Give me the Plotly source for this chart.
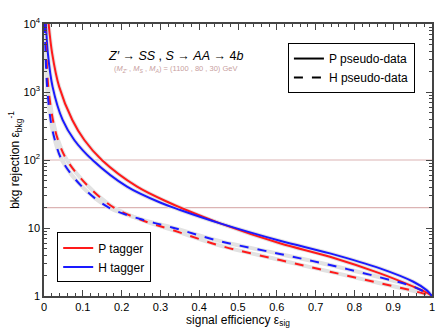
import plotly.graph_objects as go

# signal efficiency / background rejection
p_tag_eff = [0.012, 0.021, 0.039, 0.073, 0.104, 0.149, 0.240, 0.326, 0.351, 0.454, 0.608, 0.737, 0.866, 0.952, 0.986, 1.0]
p_tag_rej = [10000, 3700, 1200, 388, 197, 100, 40.5, 23.1, 20, 11.7, 5.96, 3.78, 2.15, 1.37, 1.12, 1.0]

h_tag_eff = [0.005, 0.010, 0.022, 0.048, 0.078, 0.125, 0.214, 0.304, 0.351, 0.454, 0.608, 0.737, 0.866, 0.952, 0.986, 1.0]
h_tag_rej = [10000, 3700, 1200, 388, 197, 100, 40.5, 23.1, 18.4, 11.7, 6.5, 4.24, 2.55, 1.62, 1.22, 1.0]

p_dash_eff = [0.003, 0.006, 0.011, 0.023, 0.036, 0.059, 0.115, 0.180, 0.253, 0.330, 0.454, 0.608, 0.737, 0.866, 0.952, 1.0]
p_dash_rej = [10000, 3700, 1200, 388, 197, 100, 40.5, 20, 13.0, 9.4, 5.5, 3.38, 2.28, 1.54, 1.19, 1.0]

h_dash_eff = [0.002, 0.004, 0.008, 0.017, 0.028, 0.046, 0.098, 0.167, 0.253, 0.330, 0.454, 0.608, 0.737, 0.866, 0.952, 1.0]
h_dash_rej = [10000, 3700, 1200, 388, 197, 100, 40.5, 20, 13.3, 10.2, 6.4, 4.15, 2.86, 1.88, 1.37, 1.0]

ref_levels = [100, 20]

RED = '#ff1a1a'
BLUE = '#1a1aff'
FONT = 'Liberation Sans, Arial, sans-serif'

curves = [
    (p_tag_eff, p_tag_rej, RED, 'solid'),
    (h_tag_eff, h_tag_rej, BLUE, 'solid'),
    (p_dash_eff, p_dash_rej, RED, 'dash'),
    (h_dash_eff, h_dash_rej, BLUE, 'dash'),
]

fig = go.Figure()

# grey uncertainty band under each curve
for xs, ys, col, dash in curves:
    fig.add_trace(go.Scatter(x=xs, y=ys, mode='lines',
                             line=dict(color='#e2e2e2', width=4, shape='spline', smoothing=1.0),
                             showlegend=False, hoverinfo='skip'))
for xs, ys, col, dash in curves:
    fig.add_trace(go.Scatter(x=xs, y=ys, mode='lines',
                             line=dict(color=col, width=2, dash=dash, shape='spline', smoothing=1.0),
                             showlegend=False))

# legend entries
fig.add_trace(go.Scatter(x=[None], y=[None], mode='lines', line=dict(color=RED, width=2), name='P tagger', legend='legend'))
fig.add_trace(go.Scatter(x=[None], y=[None], mode='lines', line=dict(color=BLUE, width=2), name='H tagger', legend='legend'))
fig.add_trace(go.Scatter(x=[None], y=[None], mode='lines', line=dict(color='black', width=2), name='P pseudo-data', legend='legend2'))
fig.add_trace(go.Scatter(x=[None], y=[None], mode='lines', line=dict(color='black', width=2, dash='dash'), name='H pseudo-data', legend='legend2'))

for lv in ref_levels:
    fig.add_hline(y=lv, line=dict(color='#dcb4b4', width=1.2), layer='below')

fig.add_annotation(x=0.338, y=0.915, xref='paper', yref='paper', showarrow=False, xanchor='center',
                   text='<i>Z′</i> → <i>SS</i> , <i>S</i> → <i>AA</i> → 4<i>b</i>',
                   font=dict(size=12.5, color='black', family=FONT))
fig.add_annotation(x=0.338, y=0.862, xref='paper', yref='paper', showarrow=False, xanchor='center',
                   text='(<i>M<sub>Z′</sub></i> , <i>M<sub>S</sub></i> , <i>M<sub>A</sub></i>) = (1100 , 80 , 30) GeV',
                   font=dict(size=7.5, color='#c8a0a0', family=FONT))

fig.update_layout(
    width=436, height=329,
    margin=dict(l=44, r=4, t=24, b=33),
    plot_bgcolor='white', paper_bgcolor='white',
    font=dict(family=FONT, size=12, color='black'),
    legend=dict(x=0.034, y=0.05, xanchor='left', yanchor='bottom', bordercolor='black', borderwidth=1,
                bgcolor='white', font=dict(size=12), tracegroupgap=0),
    legend2=dict(x=0.956, y=0.93, xanchor='right', yanchor='top', bordercolor='black', borderwidth=1,
                 bgcolor='white', font=dict(size=12)),
)

fig.update_xaxes(
    range=[0, 1], tickvals=[0, 0.1, 0.2, 0.3, 0.4, 0.5, 0.6, 0.7, 0.8, 0.9, 1],
    ticktext=['0', '0.1', '0.2', '0.3', '0.4', '0.5', '0.6', '0.7', '0.8', '0.9', '1'],
    ticks='inside', ticklen=6, tickcolor='#444', mirror='ticks', showline=True, linecolor='#444', linewidth=1.5,
    showgrid=False, zeroline=False, tickfont=dict(size=11), automargin=False,
    minor=dict(ticks='inside', ticklen=3, dtick=0.02, tickcolor='#444', showgrid=False),
    title=dict(text='signal efficiency ε<sub>sig</sub>', font=dict(size=12), standoff=0),
)
fig.update_yaxes(
    type='log', range=[0, 4], tickvals=[1, 10, 100, 1000, 10000],
    ticktext=['1', '10', '10<sup>2</sup>', '10<sup>3</sup>', '10<sup>4</sup>'],
    ticks='inside', ticklen=6, tickcolor='#444', mirror='ticks', showline=True, linecolor='#444', linewidth=1.5,
    showgrid=False, zeroline=False, tickfont=dict(size=11), automargin=False,
    minor=dict(ticks='inside', ticklen=3, dtick='D1', tickcolor='#444', showgrid=False),
    title=dict(text='bkg rejection ε<sub>bkg</sub><sup>-1</sup>', font=dict(size=12), standoff=0),
)

fig.write_html('out.html', config={'displayModeBar': False},
               post_script="document.body.style.margin='0px';")
